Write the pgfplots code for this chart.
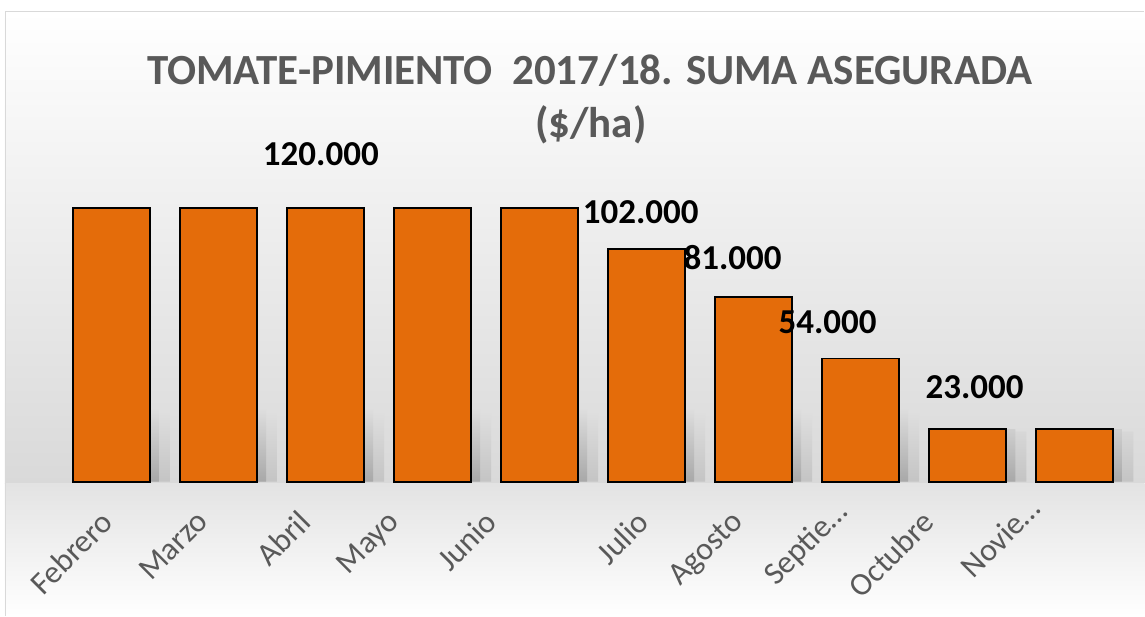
\documentclass[border=0pt]{standalone}
\usepackage{pgfplots}
\pgfplotsset{compat=1.18}
\usepackage{fontspec}
\setmainfont{Carlito}
\definecolor{barorange}{HTML}{E46C0A}
\definecolor{titlegray}{HTML}{595959}
\definecolor{bgA}{HTML}{D9D9D9}
\definecolor{bgB}{HTML}{E3E3E3}
\definecolor{bord}{HTML}{D9D9D9}
\definecolor{shTop}{HTML}{DEDEDE}
\definecolor{shMid}{HTML}{C4C4C4}
\definecolor{shBot}{HTML}{A8A8A8}
\begin{document}
\begin{tikzpicture}
\fill[white] (0pt,0pt) rectangle (1145pt,616pt);
\shade[top color=white, bottom color=bgA] (5pt,132pt) rectangle (1145pt,605pt);
\shade[top color=bgB, bottom color=white] (5pt,0pt) rectangle (1145pt,132pt);
\draw[bord, line width=1.3pt] (5.5pt,0pt) -- (5.5pt,604.5pt) -- (1145pt,604.5pt);
\node[anchor=base, text=titlegray, font=\fontsize{43}{50}\selectfont\bfseries] at (590pt,531pt) {TOMATE-PIMIENTO\ \ 2017/18. SUMA ASEGURADA};
\node[anchor=base, text=titlegray, font=\fontsize{43}{50}\selectfont\bfseries] at (591pt,478pt) {(\$/ha)};
\begin{axis}[
  at={(58pt,134pt)}, anchor=south west,
  x=107.1pt, y=2.2833pt,
  xmin=-0.5, xmax=9.5, ymin=0, ymax=150,
  axis line style={draw=none},
  ytick=\empty,
  xtick={-0.117,0.780,1.732,2.563,3.469,4.888,5.775,6.802,7.558,8.595},
  xticklabels={Febrero,Marzo,Abril,Mayo,Junio,Julio,Agosto,{\raisebox{12pt}[\height][\depth]{Septie…}\hspace*{-3.5pt}},Octubre,{\raisebox{13pt}[\height][\depth]{Novie…}\hspace*{-6.5pt}}},
  major tick length=0pt,
  xticklabel shift=27pt,
  xticklabel style={rotate=45, anchor=north east, inner sep=0pt, font=\fontsize{32}{32}\selectfont, text=titlegray},
  clip=false,
]
\addplot[ybar, bar width=77pt, bar shift=20pt, draw=none, top color=shTop, bottom color=shMid] table {
x y
0 30
1 30
2 30
3 30
4 30
5 30
6 30
7 30
8 22
9 22
};
\addplot[ybar, bar width=77pt, bar shift=9pt, draw=none, top color=shTop, bottom color=shBot] table {
x y
0 32
1 32
2 32
3 32
4 32
5 32
6 32
7 32
8 23
9 23
};
\addplot[ybar, bar width=77pt, bar shift=0pt, fill=barorange, draw=black, line width=1.8pt] table {
x y
0 120
1 120
2 120
3 120
4 120
5 102
6 81
7 54
8 23
9 23
};
\addplot[only marks, mark=none, nodes near coords, point meta=explicit symbolic,
  nodes near coords style={anchor=center, text=black, inner sep=0pt, font=\fontsize{35}{35}\selectfont\bfseries}]
  table[meta=lab] {
x y lab
1.956 143.6 120.000
4.944 118.0 102.000
5.803 98.3 81.000
6.690 69.9 54.000
8.063 41.4 23.000
};
\end{axis}
\end{tikzpicture}
\end{document}
